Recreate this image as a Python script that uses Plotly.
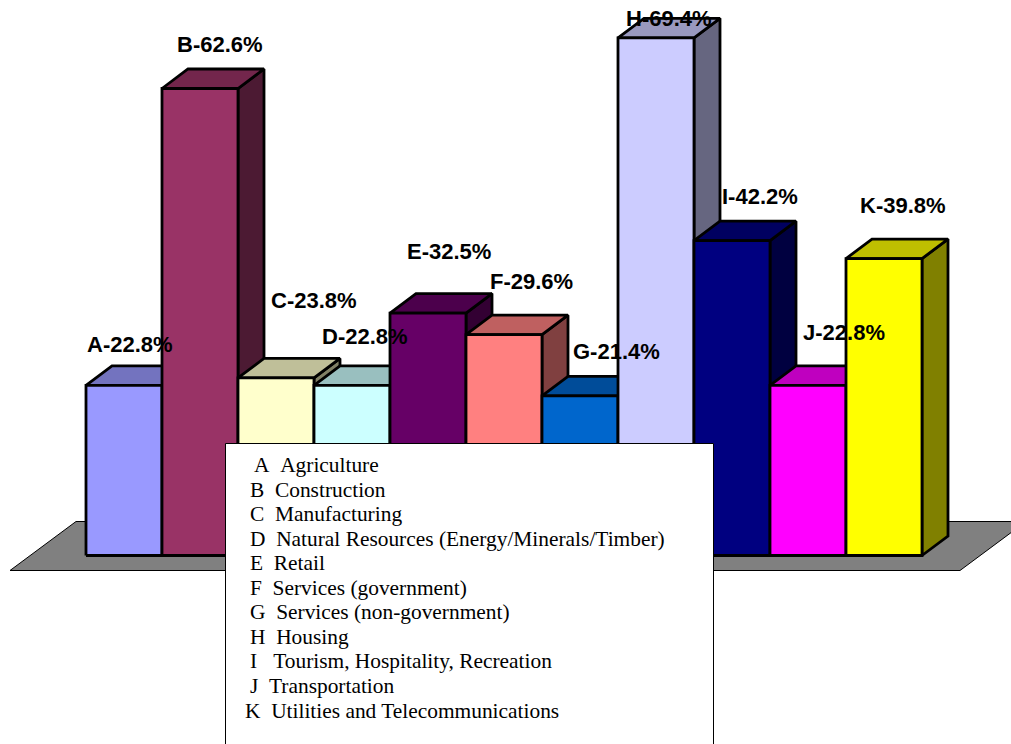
import plotly.graph_objects as go

# --- data ---
letters = ["A", "B", "C", "D", "E", "F", "G", "H", "I", "J", "K"]
values = [22.8, 62.6, 23.8, 22.8, 32.5, 29.6, 21.4, 69.4, 42.2, 22.8, 39.8]
sectors = ["Agriculture", "Construction", "Manufacturing",
           "Natural Resources (Energy/Minerals/Timber)", "Retail",
           "Services (government)", "Services (non-government)", "Housing",
           "Tourism, Hospitality, Recreation", "Transportation",
           "Utilities and Telecommunications"]
colors = ["#9999FF", "#993366", "#FFFFCC", "#CCFFFF", "#660066", "#FF8080",
          "#0066CC", "#CCCCFF", "#000080", "#FF00FF", "#FFFF00"]

# --- layout constants (pixels) ---
W, H = 1011, 744
BAR_PX = 76.0
PX_PER_UNIT = 7.46
X0_PX = 86.0      # left edge of first bar
Y0_PX = 555.5     # pixel row of value 0
DX = 26 / BAR_PX  # depth offset in x units
DY = 19.5 / PX_PER_UNIT  # depth offset in y units

label_dx = [6, 20, 38, 13, 21, 27, 36, 13, 28, 36, 19]
label_dy = [41, 44, 77, 49, 62, 53, 44, 19, 44, 53, 53]
legend_left = [252, 248, 248, 248, 248, 248, 248, 248, 248, 248, 243]
legend_gap = [2, 2, 2, 2, 2, 2, 2, 2, 3, 2, 2]
legend_rows = [465, 490, 514, 539, 563, 588, 612, 637, 661, 686, 711]


def shade(hex_color, k):
    r, g, b = (int(hex_color[j:j + 2], 16) for j in (1, 3, 5))
    return f"rgb({round(r * k)},{round(g * k)},{round(b * k)})"


def poly(xs, ys, fill, lw=2.8, color="#000000"):
    return go.Scatter(x=xs + xs[:1], y=ys + ys[:1], mode="lines", fill="toself",
                      fillcolor=fill, line=dict(color=color, width=lw),
                      hoverinfo="skip", showlegend=False)


fig = go.Figure()

# floor
x_of = lambda px: (px - X0_PX) / BAR_PX - 0.5
y_of = lambda py: (Y0_PX - py) / PX_PER_UNIT
fig.add_trace(poly([x_of(10), x_of(960), x_of(1026), x_of(76)],
                   [y_of(570.5), y_of(570.5), y_of(521.5), y_of(521.5)],
                   "#808080", lw=1))

# bars drawn left to right so that each front hides its neighbour's depth
for i, v in enumerate(values):
    l, r = i - 0.5, i + 0.5
    c = colors[i]
    fig.add_trace(poly([r, r + DX, r + DX, r], [0, DY, v + DY, v], shade(c, 0.5)))
    fig.add_trace(poly([l, l + DX, r + DX, r], [v, v + DY, v + DY, v], shade(c, 0.75)))
    fig.add_trace(poly([l, r, r, l], [0, 0, v, v], c))

# value labels
for i, v in enumerate(values):
    fig.add_annotation(x=i, y=v, xref="x", yref="y",
                       text=f"<b>{letters[i]}-{v:.1f}%</b>",
                       showarrow=False, xshift=label_dx[i], yshift=label_dy[i],
                       xanchor="center", yanchor="middle",
                       font=dict(family="Liberation Sans", size=22, color="#000000"))

# legend box
fig.add_shape(type="rect", xref="paper", yref="paper", layer="above",
              x0=225.5 / W, x1=713.5 / W, y0=-0.02, y1=1 - 443.5 / H,
              fillcolor="#FFFFFF", line=dict(color="#000000", width=1))
for i, name in enumerate(sectors):
    fig.add_annotation(xref="paper", yref="paper", x=legend_left[i] / W,
                       y=1 - legend_rows[i] / H, showarrow=False,
                       text=letters[i] + "\u00a0" * legend_gap[i] + name,
                       xanchor="left", yanchor="middle", align="left",
                       font=dict(family="Liberation Serif", size=21.4, color="#000000"))

fig.update_layout(
    width=W, height=H, margin=dict(l=0, r=0, t=0, b=0),
    paper_bgcolor="#FFFFFF", plot_bgcolor="#FFFFFF", showlegend=False,
    xaxis=dict(visible=False, range=[x_of(0), x_of(W)], fixedrange=True),
    yaxis=dict(visible=False, range=[y_of(H), y_of(0)], fixedrange=True),
)
fig.write_html("out.html", post_script="document.body.style.margin='0';",
               config={"displayModeBar": False})
